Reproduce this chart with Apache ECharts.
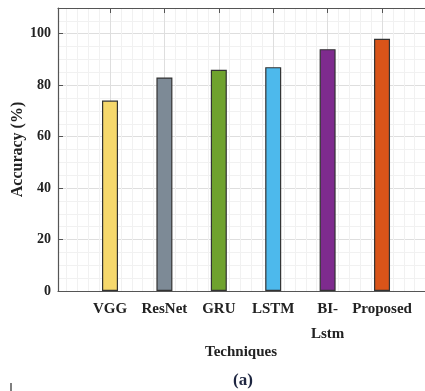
<!DOCTYPE html>
<html>
<head>
<meta charset="utf-8">
<script src="https://cdn.jsdelivr.net/npm/echarts@6/dist/echarts.min.js"></script>
<style>html,body{margin:0;padding:0;background:#fff;}#c{width:425px;height:391px;}</style>
</head>
<body>
<div id="c"></div>
<script>
var categories = ['VGG', 'ResNet', 'GRU', 'LSTM', 'BI-\nLstm', 'Proposed'];
var accuracy = [74, 83, 86, 87, 94, 98];
var barColors = ['#F6D86C', '#7D8A96', '#6FA22E', '#4DB9EC', '#7E2B8E', '#D95419'];
var yTicks = [0, 20, 40, 60, 80, 100];
var xPositions = [1, 2, 3, 4, 5, 6];

var font = 'Liberation Serif, Times New Roman, serif';
var chart = echarts.init(document.getElementById('c'));
var data = accuracy.map(function (v, i) {
  return { value: [xPositions[i], v], itemStyle: { color: barColors[i] } };
});
var axisCommon = {
  type: 'value', min: 0.044, max: 6.79, splitNumber: 7,
  axisLine: { show: true, lineStyle: { color: '#555', width: 1.2 } },
  axisTick: { show: true, inside: true, length: 5, lineStyle: { color: '#555' }, customValues: xPositions },
  splitLine: { show: false },
  minorTick: { show: false, splitNumber: 5 },
  minorSplitLine: { show: false }
};
chart.setOption({
  animation: false,
  backgroundColor: '#fff',
  grid: { left: 58, top: 8, right: 0, bottom: 100, containLabel: false, outerBoundsMode: 'none' },
  xAxis: [
    Object.assign({}, axisCommon, {
      position: 'bottom',
      axisLabel: {
        margin: 6, fontFamily: font, fontWeight: 'bold', fontSize: 15, color: '#222', lineHeight: 25,
        verticalAlign: 'top', customValues: xPositions,
        formatter: function (v) {
          var i = xPositions.indexOf(Math.round(v));
          return i >= 0 ? categories[i] : '';
        }
      },
      splitLine: { show: true, customValues: xPositions, lineStyle: { color: '#dedede', width: 1 } },
      minorSplitLine: { show: true, lineStyle: { color: '#f1f1f1', width: 1 } }
    }),
    Object.assign({}, axisCommon, {
      position: 'top',
      axisLabel: { show: false }
    })
  ],
  yAxis: {
    type: 'value', min: 0, max: 110, interval: 20,
    name: 'Accuracy (%)', nameLocation: 'middle', nameGap: 32,
    nameTextStyle: { fontFamily: font, fontWeight: 'bold', fontSize: 16, color: '#222' },
    nameMoveOverlap: false,
    axisLine: { show: true, lineStyle: { color: '#555', width: 1.2 } },
    axisTick: { show: true, inside: true, length: 5, lineStyle: { color: '#555' } },
    axisLabel: {
      margin: 7, fontFamily: font, fontWeight: 'bold', fontSize: 14, color: '#222',
      formatter: function (v) { return yTicks.indexOf(v) >= 0 ? String(v) : ''; }
    },
    splitLine: { show: true, lineStyle: { color: '#dedede', width: 1 } },
    minorTick: { show: false, splitNumber: 4 },
    minorSplitLine: { show: true, lineStyle: { color: '#f1f1f1', width: 1 } }
  },
  graphic: [
    { type: 'text', x: 241, y: 352, style: { text: 'Techniques', align: 'center', verticalAlign: 'middle', fontFamily: font, fontWeight: 'bold', fontSize: 15, fill: '#222' } },
    { type: 'text', x: 243, y: 381, style: { text: '(a)', align: 'center', verticalAlign: 'middle', fontFamily: font, fontWeight: 'bold', fontSize: 17, fill: '#1d2540' } },
    { type: 'line', shape: { x1: 11, y1: 383, x2: 11, y2: 391 }, style: { stroke: '#555', lineWidth: 1.5 } }
  ],
  series: [{
    type: 'bar', xAxisIndex: 0, data: data, barWidth: 16,
    itemStyle: { borderColor: '#333', borderWidth: 1.2 }
  }]
});
</script>
</body>
</html>
